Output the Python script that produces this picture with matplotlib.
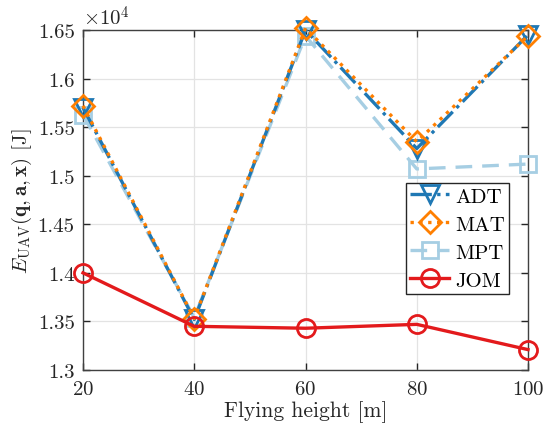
import matplotlib
matplotlib.use('Agg')
import matplotlib.pyplot as plt
from matplotlib.ticker import FuncFormatter, MultipleLocator

# Energy consumption of the UAV versus flying height for each scheme
heights = [20, 40, 60, 80, 100]
adt = [15700, 13520, 16500, 15280, 16450]
mat = [15720, 13530, 16520, 15350, 16440]
mpt = [15630, 13540, 16440, 15070, 15120]
jom = [14000, 13450, 13430, 13470, 13210]

plt.rcParams['font.family'] = 'serif'
plt.rcParams['font.serif'] = ['cmr10', 'DejaVu Serif']
plt.rcParams['mathtext.fontset'] = 'cm'
plt.rcParams['axes.formatter.use_mathtext'] = True
plt.rcParams['axes.unicode_minus'] = False

fig = plt.figure(figsize=(5.44, 4.35), dpi=100)
ax = fig.add_axes([0.1526, 0.1471, 0.8180, 0.7816])

lw = 2.4
ms = 13
mew = 2.0
ax.plot(heights, adt, '-.', color='#1f78b4', lw=lw, marker='v', ms=ms,
        mfc='none', mew=mew, label='ADT', clip_on=False, zorder=4)
ax.plot(heights, mat, ':', color='#ff7f00', lw=lw, marker='D', ms=ms - 2,
        mfc='none', mew=mew, label='MAT', clip_on=False, zorder=5)
ax.plot(heights, mpt, '--', color='#a6cee3', lw=lw, marker='s', ms=ms - 2,
        mfc='none', mew=mew, label='MPT', clip_on=False, zorder=3,
        dashes=(5, 3))
ax.plot(heights, jom, '-', color='#e31a1c', lw=lw, marker='o', ms=ms,
        mfc='none', mew=mew, label='JOM', clip_on=False, zorder=6)

ax.set_xlim(20, 100)
ax.set_ylim(13000, 16500)
ax.xaxis.set_major_locator(MultipleLocator(20))
ax.yaxis.set_major_locator(MultipleLocator(500))
ax.yaxis.set_major_formatter(FuncFormatter(lambda v, p: '%g' % round(v / 1e4, 3)))

ax.grid(True, color='#e3e3e3', lw=0.9)
ax.set_axisbelow(True)
for s in ax.spines.values():
    s.set_color('#404040')
    s.set_linewidth(1.0)
ax.tick_params(direction='in', top=True, right=True, length=5,
               labelsize=15, colors='#262626', width=1.0, pad=6)
ax.tick_params(axis='x', pad=7)

ax.text(0.0, 1.003, r'$\times10^4$', transform=ax.transAxes, fontsize=15,
        ha='left', va='bottom', color='#262626')
ax.set_xlabel('Flying height [m]', fontsize=15.5, color='#262626', labelpad=2)
ax.set_ylabel(r'$E_{\mathrm{UAV}}(\mathbf{q},\mathbf{a},\mathbf{x})$ [J]',
              fontsize=15, color='#262626', labelpad=3)

leg = ax.legend(loc='upper left', bbox_to_anchor=(0.726, 0.55), fontsize=15,
                fancybox=False, edgecolor='#262626', framealpha=1,
                handlelength=1.85, handletextpad=0.3, borderpad=0.2,
                labelspacing=0.45, borderaxespad=0)
leg.get_frame().set_linewidth(1.0)

fig.savefig('out.png', dpi=100)
